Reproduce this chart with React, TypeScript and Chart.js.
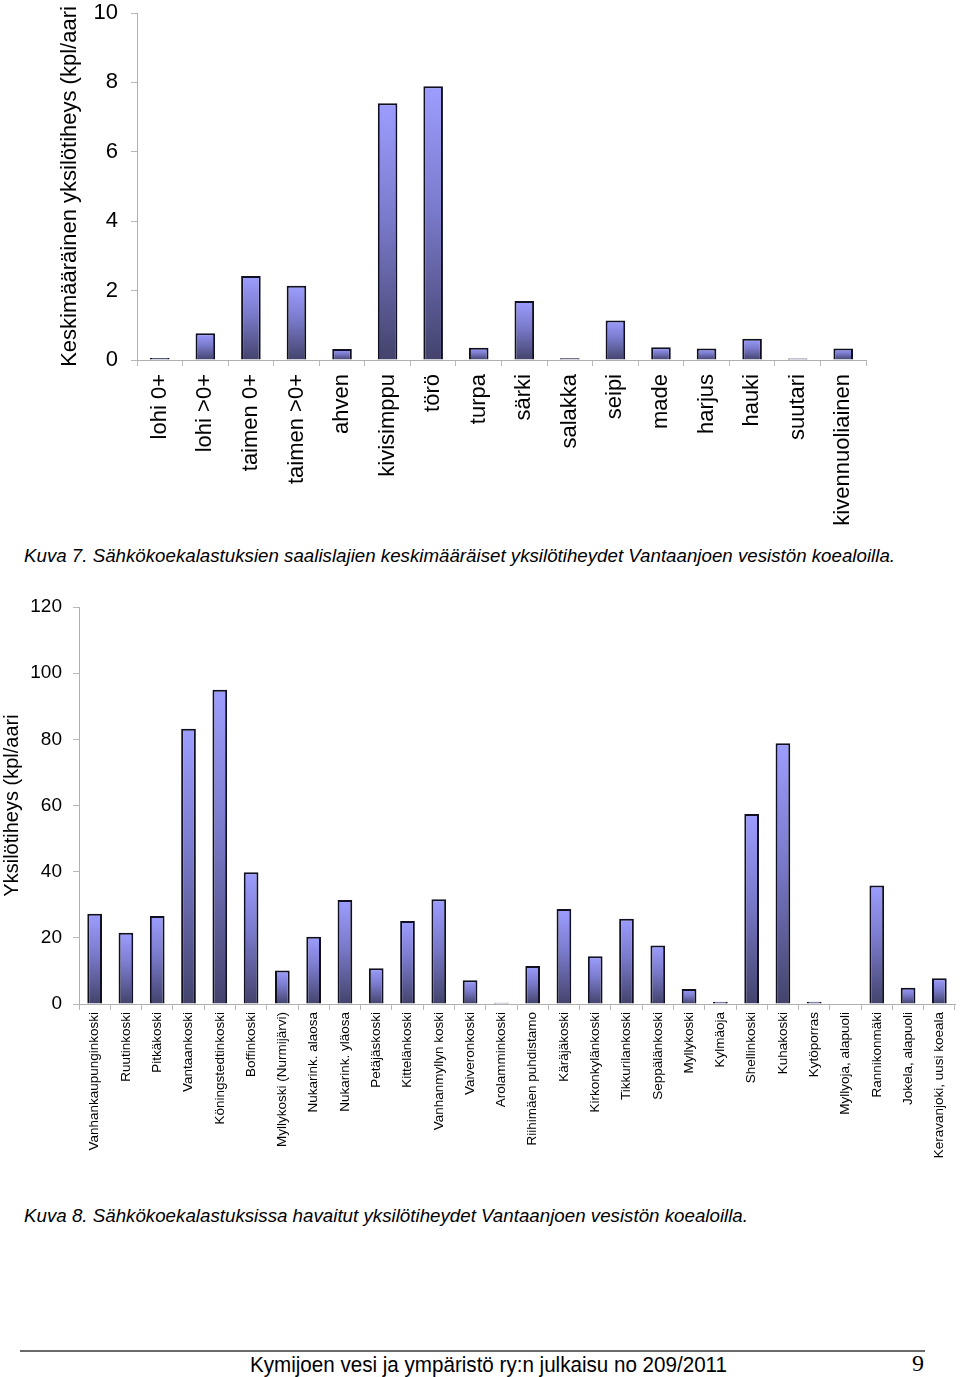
import React, { useEffect, useLayoutEffect, useRef } from 'react';
import { Chart, registerables } from 'chart.js';

Chart.register(...registerables);

// ---------- data ----------
const speciesLabels = [
  'lohi 0+', 'lohi >0+', 'taimen 0+', 'taimen >0+', 'ahven', 'kivisimppu', 'törö', 'turpa',
  'särki', 'salakka', 'seipi', 'made', 'harjus', 'hauki', 'suutari', 'kivennuoliainen',
];
const speciesDensity = [0.06, 0.77, 2.42, 2.14, 0.32, 7.4, 7.89, 0.35, 1.7, 0.05, 1.14, 0.37, 0.33, 0.61, 0.04, 0.33];
const speciesYMax = 10;
const speciesYStep = 2;
const speciesYTitle = 'Keskimääräinen yksilötiheys (kpl/aari';

const siteLabels = [
  'Vanhankaupunginkoski', 'Ruutinkoski', 'Pitkäkoski', 'Vantaankoski', 'Köningstedtinkoski',
  'Boffinkoski', 'Myllykoski (Nurmijärvi)', 'Nukarink. alaosa', 'Nukarink. yläosa', 'Petäjäskoski',
  'Kittelänkoski', 'Vanhanmyllyn koski', 'Vaiveronkoski', 'Arolamminkoski', 'Riihimäen puhdistamo',
  'Käräjäkoski', 'Kirkonkylänkoski', 'Tikkurilankoski', 'Seppälänkoski', 'Myllykoski', 'Kylmäoja',
  'Shellinkoski', 'Kuhakoski', 'Kytöporras', 'Myllyoja, alapuoli', 'Rannikonmäki', 'Jokela, alapuoli',
  'Keravanjoki, uusi koeala',
];
const siteDensity = [
  27.3, 21.5, 26.6, 83.2, 95.0, 39.8, 10.1, 20.3, 31.4, 10.8, 25.1, 31.7, 7.2, 0.4, 11.5,
  28.7, 14.4, 25.8, 17.7, 4.5, 0.7, 57.4, 78.8, 0.7, 0, 35.8, 4.9, 7.8,
];
const siteYMax = 120;
const siteYStep = 20;
const siteYTitle = 'Yksilötiheys (kpl/aari';

const caption7 = 'Kuva 7. Sähkökoekalastuksien saalislajien keskimääräiset yksilötiheydet Vantaanjoen vesistön koealoilla.';
const caption8 = 'Kuva 8. Sähkökoekalastuksissa havaitut yksilötiheydet Vantaanjoen vesistön koealoilla.';
const footerText = 'Kymijoen vesi ja ympäristö ry:n julkaisu no 209/2011';
const pageNumber = '9';

// ---------- styling ----------
const FONT = "'Liberation Sans', Arial, Helvetica, sans-serif";

function barGradient(c: any) {
  const chart = c.chart;
  const y = chart.scales && chart.scales.y;
  if (!y || c.type !== 'data') return '#7a7acc';
  const v = c.raw as number;
  const top = y.getPixelForValue(v);
  const base = y.getPixelForValue(0);
  if (!isFinite(top) || !isFinite(base) || Math.abs(base - top) < 1) return '#55558a';
  const g = chart.ctx.createLinearGradient(0, top, 0, base);
  g.addColorStop(0, '#9d9dff');
  g.addColorStop(0.45, '#7a7acc');
  g.addColorStop(1, '#43436c');
  return g;
}

interface BarOpts {
  labels: string[];
  values: number[];
  yMax: number;
  yStep: number;
  yTitle: string;
  width: number;
  height: number;
  padding: { left: number; right: number; top: number; bottom: number };
  yAxisWidth: number;
  xAxisHeight: number;
  yTickFont: number;
  yTickPad: number;
  xTickFont: number;
  xTickPad: number;
  titleFont: number;
  titlePadTop: number;
  barPercentage: number;
}

function BarChart(p: BarOpts) {
  const ref = useRef<HTMLCanvasElement | null>(null);
  useEffect(() => {
    if (!ref.current) return;
    const chart = new Chart(ref.current, {
      type: 'bar',
      data: {
        labels: p.labels,
        datasets: [
          {
            data: p.values,
            backgroundColor: barGradient as any,
            borderColor: '#101022',
            borderWidth: 2,
            borderSkipped: 'bottom',
            barPercentage: p.barPercentage,
            categoryPercentage: 1,
          },
        ],
      },
      options: {
        animation: false,
        responsive: false,
        maintainAspectRatio: false,
        layout: { padding: p.padding },
        plugins: { legend: { display: false }, tooltip: { enabled: false } },
        scales: {
          x: {
            offset: true,
            grid: { offset: true, drawOnChartArea: false, drawTicks: true, tickLength: 6, color: '#b8b8b8' },
            border: { display: true, color: '#b0b0b0' },
            ticks: {
              autoSkip: false,
              minRotation: 90,
              maxRotation: 90,
              padding: p.xTickPad,
              color: '#000',
              font: { family: FONT, size: p.xTickFont },
            },
            afterFit: (s: any) => {
              s.height = p.xAxisHeight;
              s.paddingLeft = 0;
              s.paddingRight = 0;
            },
          },
          y: {
            min: 0,
            max: p.yMax,
            ticks: {
              stepSize: p.yStep,
              padding: p.yTickPad,
              color: '#000',
              font: { family: FONT, size: p.yTickFont },
            },
            grid: { drawOnChartArea: false, drawTicks: true, tickLength: 6, color: '#b8b8b8' },
            border: { display: true, color: '#b0b0b0' },
            title: {
              display: true,
              text: p.yTitle,
              color: '#000',
              font: { family: FONT, size: p.titleFont },
              padding: { top: p.titlePadTop, bottom: 0 },
            },
            afterFit: (s: any) => {
              s.width = p.yAxisWidth;
              s.paddingTop = 0;
              s.paddingBottom = 0;
            },
          },
        },
      },
    });
    return () => chart.destroy();
  }, []);
  return (
    <canvas
      ref={ref}
      width={p.width}
      height={p.height}
      style={{ width: p.width, height: p.height, display: 'block' }}
    />
  );
}

function FitText(props: { text: string; width: number; style: React.CSSProperties }) {
  const ref = useRef<HTMLSpanElement | null>(null);
  useLayoutEffect(() => {
    const el = ref.current;
    if (!el) return;
    el.style.transform = 'none';
    const w = el.getBoundingClientRect().width;
    if (w > 0) el.style.transform = `scaleX(${props.width / w})`;
  }, []);
  return (
    <span
      ref={ref}
      style={{ display: 'inline-block', whiteSpace: 'nowrap', transformOrigin: 'left center', ...props.style }}
    >
      {props.text}
    </span>
  );
}

export default function App() {
  return (
    <div style={{ position: 'absolute', left: 0, top: 0, width: 960, height: 1377, background: '#fff', overflow: 'hidden' }}>
      <div style={{ position: 'absolute', left: 0, top: 0 }}>
        <BarChart
          labels={speciesLabels}
          values={speciesDensity}
          yMax={speciesYMax}
          yStep={speciesYStep}
          yTitle={speciesYTitle}
          width={960}
          height={540}
          padding={{ left: 53, right: 94, top: 13, bottom: 0 }}
          yAxisWidth={84}
          xAxisHeight={180}
          yTickFont={22}
          yTickPad={13}
          xTickFont={22}
          xTickPad={8}
          titleFont={22}
          titlePadTop={4}
          barPercentage={0.43}
        />
      </div>
      <div style={{ position: 'absolute', left: 24, top: 545, fontFamily: FONT, fontStyle: 'italic', fontSize: 17.5, lineHeight: '22px', color: '#000' }}>
        <FitText text={caption7} width={871} style={{}} />
      </div>
      <div style={{ position: 'absolute', left: 0, top: 580 }}>
        <BarChart
          labels={siteLabels}
          values={siteDensity}
          yMax={siteYMax}
          yStep={siteYStep}
          yTitle={siteYTitle}
          width={960}
          height={600}
          padding={{ left: 0, right: 5, top: 27, bottom: 0 }}
          yAxisWidth={79}
          xAxisHeight={176}
          yTickFont={19}
          yTickPad={11}
          xTickFont={13.5}
          xTickPad={2}
          titleFont={20}
          titlePadTop={0}
          barPercentage={0.47}
        />
      </div>
      <div style={{ position: 'absolute', left: 24, top: 1205, fontFamily: FONT, fontStyle: 'italic', fontSize: 17.5, lineHeight: '22px', color: '#000' }}>
        <FitText text={caption8} width={724} style={{}} />
      </div>
      <div style={{ position: 'absolute', left: 20, top: 1350, width: 905, height: 2, background: '#6a6a6a' }} />
      <div style={{ position: 'absolute', left: 250, top: 1352, fontFamily: "'Liberation Sans Narrow', 'Liberation Sans', Arial, sans-serif", fontSize: 22, lineHeight: '26px', color: '#000' }}>
        <FitText text={footerText} width={477} style={{}} />
      </div>
      <div style={{ position: 'absolute', left: 912, top: 1350, fontFamily: "'Liberation Serif', 'Times New Roman', serif", fontSize: 24, lineHeight: '26px', color: '#000' }}>
        {pageNumber}
      </div>
    </div>
  );
}
